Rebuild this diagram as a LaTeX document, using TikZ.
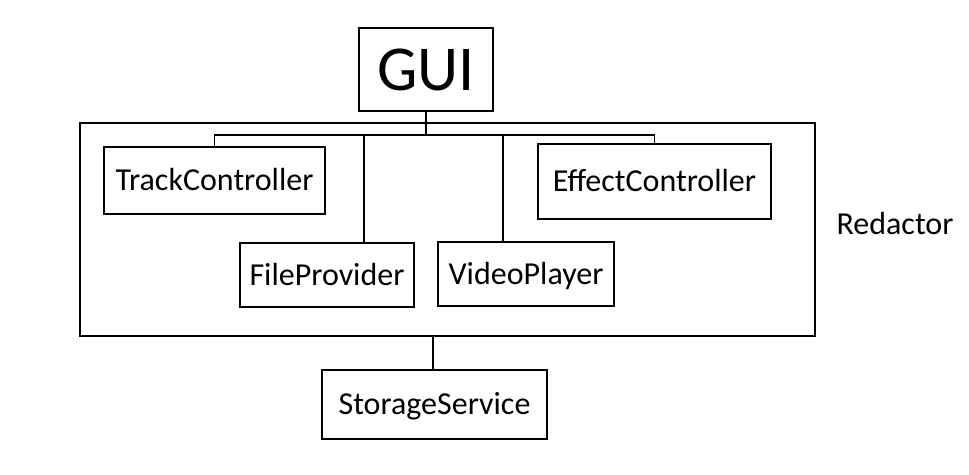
\documentclass[tikz,border=0pt]{standalone}
\usepackage{fontspec}
\setmainfont{Carlito}
\usepackage{tikz}
\usetikzlibrary{calc}

\tikzset{
  modbox/.style={draw,line width=1.5pt,inner sep=0pt,text height=20.6pt,text depth=0pt,font=\fontsize{32}{38}\selectfont},
  wire/.style={line width=1.5pt}
}

\begin{document}
\begin{tikzpicture}[x=1pt,y=-1pt]
      \useasboundingbox (0,0) rectangle (969,474);
      \node[modbox,minimum width=735pt,minimum height=213pt] (redactor) at (447.5,229.5) {};
      \node[font=\fontsize{32}{38}\selectfont,inner sep=0pt,text height=20.6pt,text depth=0pt] (redactorlabel) at (895,224) {Redactor};
      \node[modbox,minimum width=134pt,minimum height=83pt,text height=41pt,font=\fontsize{64}{70}\selectfont] (gui) at (426,69.5) {GUI};
      \node[modbox,minimum width=221pt,minimum height=67pt] (track) at (214.5,180.5) {TrackController};
      \node[modbox,minimum width=233pt,minimum height=75pt] (effect) at (654.5,181.5) {EffectController};
      \node[modbox,minimum width=174pt,minimum height=64pt] (file) at (327,275) {FileProvider};
      \node[modbox,minimum width=176pt,minimum height=64pt] (video) at (526,274) {VideoPlayer};
      \node[modbox,minimum width=225pt,minimum height=69pt] (storage) at (434.5,404.5) {StorageService};
      \coordinate (bus) at (426,135);
      \draw[wire] (gui.south) -- (bus);
      \draw[wire] (track.north) |- (bus) -| (effect.north);
      \draw[wire] ([xshift=37pt]file.north) -- ([xshift=37pt]file.north |- bus);
      \draw[wire] ([xshift=-23pt]video.north) -- ([xshift=-23pt]video.north |- bus);
      \draw[wire] ([xshift=-1.5pt]storage.north) -- ([xshift=-1.5pt]storage.north |- redactor.south);
\end{tikzpicture}
\end{document}
